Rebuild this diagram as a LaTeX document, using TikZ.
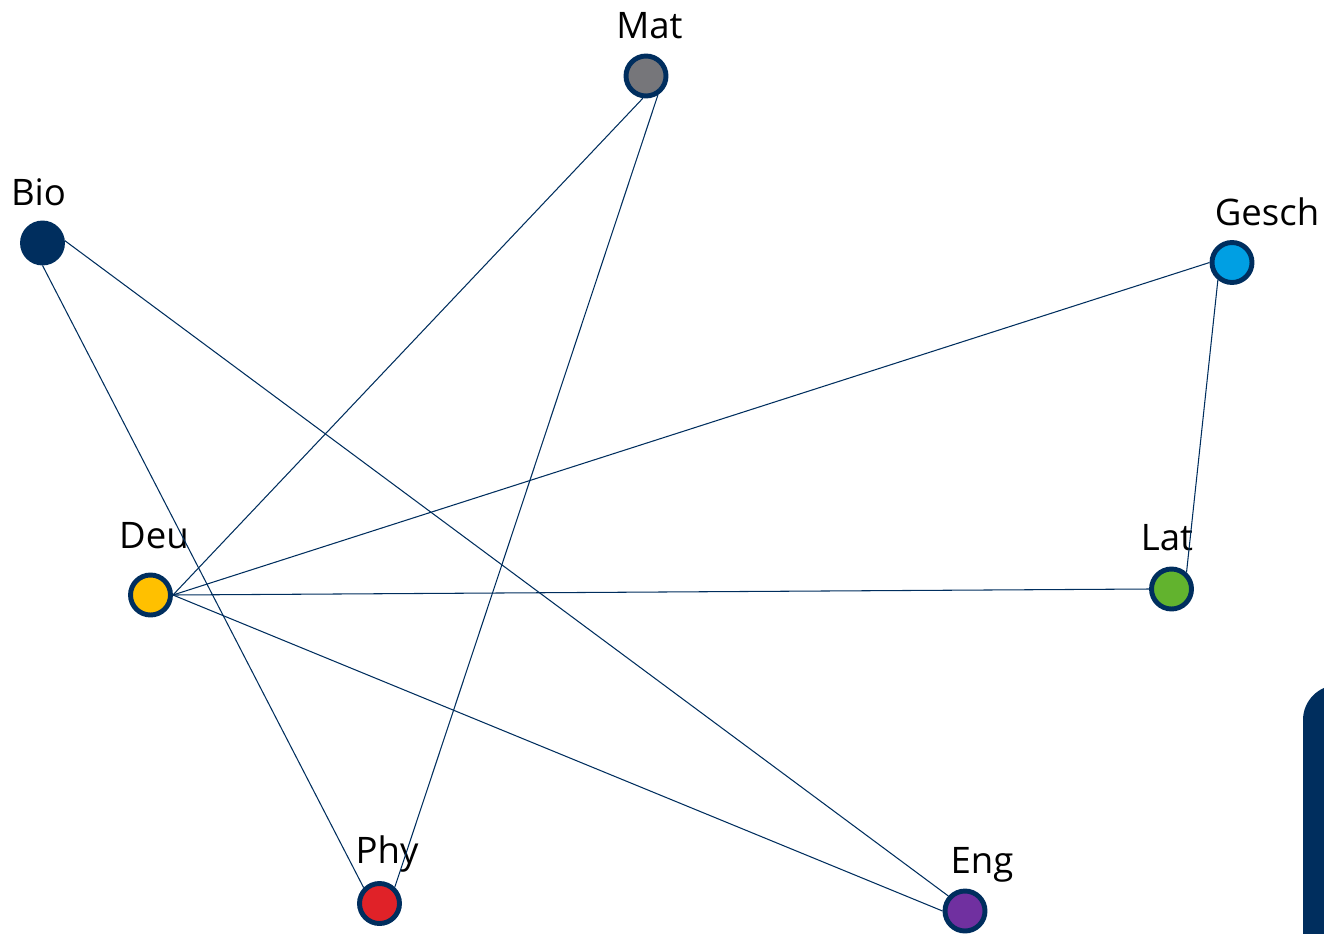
\documentclass[tikz,border=0pt]{standalone}
\usepackage{fontspec}
\setmainfont{Open Sans}
\usetikzlibrary{positioning}
\definecolor{navyblue}{RGB}{0,46,94}
\definecolor{matgray}{RGB}{118,118,122}
\definecolor{deuyellow}{RGB}{255,192,0}
\definecolor{phyred}{RGB}{224,34,40}
\definecolor{latgreen}{RGB}{98,179,46}
\definecolor{geschblue}{RGB}{0,159,227}
\definecolor{engpurple}{RGB}{112,48,160}
\tikzset{
  fach/.style={circle, draw=navyblue, line width=2.8pt, minimum size=0.8cm, inner sep=0pt},
  fachtext/.style={anchor=base, font=\fontsize{20.8}{25}\selectfont, inner sep=0pt},
  link/.style={navyblue, line width=0.6pt},
}
\begin{document}
\begin{tikzpicture}[x=0.02cm, y=-0.02cm]
\useasboundingbox (0,0) rectangle (1324,933);
% subjects
\node[fach, fill=matgray] (mat) at (646,76) {};
\node[fach, fill=navyblue] (bio) at (42.5,243) {};
\node[fach, fill=geschblue] (gesch) at (1232,262.5) {};
\node[fach, fill=deuyellow] (deu) at (150.5,595) {};
\node[fach, fill=latgreen] (lat) at (1171.5,589) {};
\node[fach, fill=phyred] (phy) at (379.5,903.5) {};
\node[fach, fill=engpurple] (eng) at (965,911) {};
% names
\node[fachtext] (matname) at (649.5,38) {Mat};
\node[fachtext] (bioname) at (38.5,205) {Bio};
\node[fachtext] (geschname) at (1267,225) {Gesch};
\node[fachtext] (deuname) at (154,548) {Deu};
\node[fachtext] (latname) at (1167,550) {Lat};
\node[fachtext] (phyname) at (387,863) {Phy};
\node[fachtext] (engname) at (982,873) {Eng};
% links
\draw[link] (mat.-98) -- (deu.east);
\draw[link] (mat.-58) -- (phy.47);
\draw[link] (bio.south) -- (phy.135);
\draw[link] (bio.6) -- (eng.138);
\draw[link] (deu.east) -- (gesch.west);
\draw[link] (deu.east) -- (lat.west);
\draw[link] (deu.east) -- (eng.west);
\draw[link] (gesch.-129) -- (lat.48);
% corner panel
\begin{scope}
\clip (0,0) rectangle (1324,933);
\fill[navyblue, rounded corners=0.7cm] (1303,685) rectangle (1400,1000);
\end{scope}
\end{tikzpicture}
\end{document}
